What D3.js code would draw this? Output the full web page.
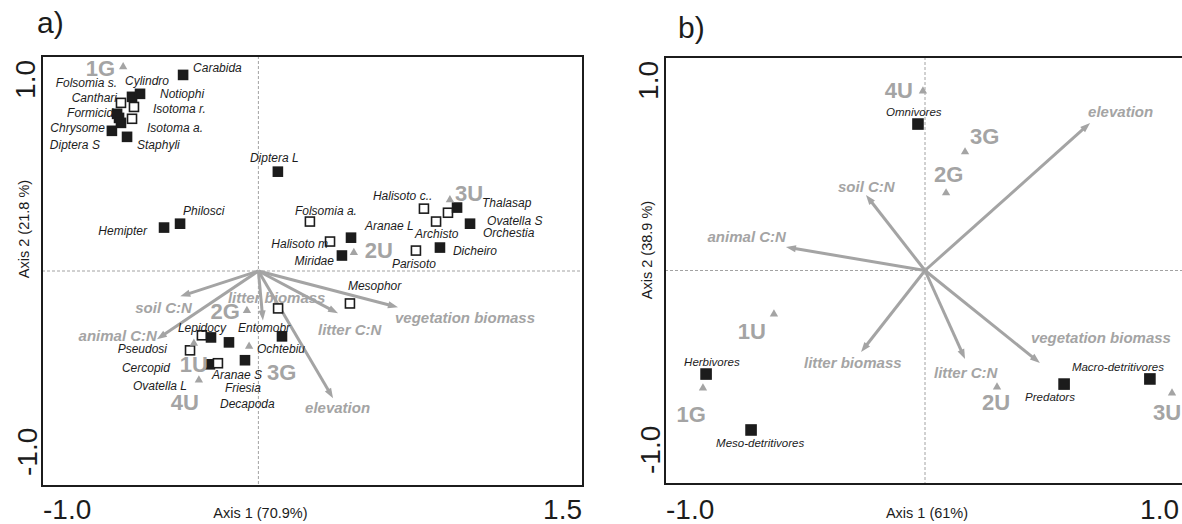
<!DOCTYPE html>
<html>
<head>
<meta charset="utf-8">
<script src="https://cdn.jsdelivr.net/npm/d3@7"></script>
<style>
	body { margin: 0; background: #fff; }
	text { font-family: "Liberation Sans", Arial, Helvetica, sans-serif; }
</style>
</head>
<body>
<svg id="ord-plot" width="1182" height="524" viewBox="0 0 1182 524"></svg>
<script>

// ---- panel a) data (species, sites, environmental vectors) ----
const speciesA = [
	{ name: "Carabida", x: -0.348, y: 0.912, open: false },
	{ name: "Canthari", x: -0.644, y: 0.712, open: false },
	{ name: "Folsomia s.", x: -0.635, y: 0.782, open: true },
	{ name: "Cylindro", x: -0.584, y: 0.810, open: false },
	{ name: "Notiophi", x: -0.547, y: 0.824, open: false },
	{ name: "Isotoma r.", x: -0.575, y: 0.763, open: true },
	{ name: "Formicid", x: -0.653, y: 0.731, open: false },
	{ name: "Isotoma a.", x: -0.584, y: 0.708, open: true },
	{ name: "Chrysome", x: -0.635, y: 0.689, open: false },
	{ name: "Diptera S", x: -0.677, y: 0.652, open: false },
	{ name: "Staphyli", x: -0.607, y: 0.624, open: false },
	{ name: "Hemipter", x: -0.436, y: 0.202, open: false },
	{ name: "Philosci", x: -0.362, y: 0.220, open: false },
	{ name: "Diptera L", x: 0.090, y: 0.462, open: false },
	{ name: "Folsomia a.", x: 0.238, y: 0.230, open: true },
	{ name: "Halisoto m", x: 0.331, y: 0.137, open: true },
	{ name: "Aranae L", x: 0.428, y: 0.155, open: false },
	{ name: "Miridae", x: 0.386, y: 0.072, open: false },
	{ name: "Parisoto", x: 0.728, y: 0.095, open: true },
	{ name: "Halisoto c..", x: 0.765, y: 0.290, open: true },
	{ name: "Archisto", x: 0.821, y: 0.230, open: true },
	{ name: "Thalasap", x: 0.876, y: 0.271, open: true },
	{ name: "Ovatella S", x: 0.918, y: 0.295, open: false },
	{ name: "Orchestia", x: 0.978, y: 0.220, open: false },
	{ name: "Dicheiro", x: 0.839, y: 0.109, open: false },
	{ name: "Mesophor", x: 0.423, y: -0.151, open: true },
	{ name: "Entomobr", x: 0.091, y: -0.174, open: true },
	{ name: "Ochtebiu", x: 0.109, y: -0.304, open: false },
	{ name: "Lepidocy", x: -0.261, y: -0.299, open: true },
	{ name: "Ovatella L", x: -0.219, y: -0.309, open: false },
	{ name: "Decapoda", x: -0.136, y: -0.332, open: false },
	{ name: "Pseudosi", x: -0.316, y: -0.369, open: true },
	{ name: "Cercopid", x: -0.224, y: -0.434, open: false },
	{ name: "Friesia", x: -0.187, y: -0.429, open: true },
	{ name: "Aranae S", x: -0.062, y: -0.415, open: false }
];

const sitesA = [
	{ name: "1G", x: -0.625, y: 0.954 },
	{ name: "3U", x: 0.885, y: 0.336 },
	{ name: "2U", x: 0.441, y: 0.090 },
	{ name: "2G", x: -0.053, y: -0.179 },
	{ name: "3G", x: -0.043, y: -0.346 },
	{ name: "1U", x: -0.298, y: -0.332 },
	{ name: "4U", x: -0.275, y: -0.503 }
];

const envA = [
	{ name: "soil C:N", x: -0.361, y: -0.118 },
	{ name: "animal C:N", x: -0.469, y: -0.318 },
	{ name: "litter biomass", x: 0.021, y: -0.230 },
	{ name: "litter C:N", x: 0.368, y: -0.197 },
	{ name: "vegetation biomass", x: 0.645, y: -0.169 },
	{ name: "elevation", x: 0.345, y: -0.592 }
];

// ---- panel b) data ----
const speciesB = [
	{ name: "Omnivores", x: -0.027, y: 0.686, open: false },
	{ name: "Herbivores", x: -0.842, y: -0.485, open: false },
	{ name: "Meso-detritivores", x: -0.669, y: -0.747, open: false },
	{ name: "Predators", x: 0.535, y: -0.532, open: false },
	{ name: "Macro-detritivores", x: 0.865, y: -0.508, open: false }
];

const sitesB = [
	{ name: "4U", x: -0.008, y: 0.845 },
	{ name: "3G", x: 0.154, y: 0.560 },
	{ name: "2G", x: 0.081, y: 0.368 },
	{ name: "1U", x: -0.581, y: -0.199 },
	{ name: "1G", x: -0.854, y: -0.546 },
	{ name: "2U", x: 0.277, y: -0.541 },
	{ name: "3U", x: 0.950, y: -0.569 }
];

const envB = [
	{ name: "elevation", x: 0.635, y: 0.691 },
	{ name: "soil C:N", x: -0.227, y: 0.354 },
	{ name: "animal C:N", x: -0.535, y: 0.110 },
	{ name: "litter biomass", x: -0.246, y: -0.382 },
	{ name: "litter C:N", x: 0.154, y: -0.415 },
	{ name: "vegetation biomass", x: 0.442, y: -0.433 }
];

// axis ranges and texts
const xDomainA = [-1.0, 1.5];
const xDomainB = [-1.0, 1.0];
const yDomain = [-1.0, 1.0];
const xTickLabelsA = ["-1.0", "1.5"];
const xTickLabelsB = ["-1.0", "1.0"];
const yTickLabels = ["-1.0", "1.0"];

// label nudges in px from the mark: [dx, dy, anchor]
const nudgeA = {
	"Carabida": [10, -3, "start"], "Folsomia s.": [-4, -16, "end"], "Cylindro": [-7, -12, "start"],
	"Notiophi": [20, 4, "start"], "Canthari": [-2, -16, "end"], "Isotoma r.": [19, 6, "start"],
	"Formicid": [-4, 3, "end"], "Isotoma a.": [15, 13, "start"], "Chrysome": [-16, 9, "end"],
	"Diptera S": [-12, 18, "end"], "Staphyli": [10, 12, "start"], "Hemipter": [-17, 7, "end"],
	"Philosci": [3, -9, "start"], "Diptera L": [-28, -10, "start"], "Folsomia a.": [-15, -7, "start"],
	"Halisoto m": [-2, 6, "end"], "Aranae L": [14, -8, "start"], "Miridae": [-8, 9, "end"],
	"Parisoto": [-24, 17, "start"], "Halisoto c..": [-51, -9, "start"], "Archisto": [-21, 16, "start"],
	"Thalasap": [34, -6, "start"], "Ovatella S": [30, 17, "start"], "Orchestia": [13, 13, "start"],
	"Dicheiro": [13, 7, "start"], "Mesophor": [-2, -13, "start"], "Entomobr": [-40, 24, "start"],
	"Ochtebiu": [-25, 17, "start"], "Lepidocy": [-24, -3, "start"], "Ovatella L": [-24, 53, "end"],
	"Decapoda": [-9, 66, "start"], "Pseudosi": [-23, 3, "end"], "Cercopid": [-40, 8, "end"],
	"Friesia": [7, 29, "start"], "Aranae S": [-33, 19, "start"],
	"1G": [-8, 10, "end"], "3U": [5, 2, "start"], "2U": [11, 6, "start"], "2G": [-7, 10, "end"],
	"3G": [18, 35, "start"], "1U": [0, 30, "middle"], "4U": [-14, 31, "middle"],
	"soil C:N": [-45, 17, "start"], "animal C:N": [0, 2, "end"], "litter biomass": [-35, -17, "start"],
	"litter C:N": [-20, 22, "start"], "vegetation biomass": [-3, 16, "start"], "elevation": [-28, 15, "start"]
};

const nudgeB = {
	"Omnivores": [-32, -8, "start"], "Herbivores": [-22, -8, "start"], "Meso-detritivores": [-35, 17, "start"],
	"Predators": [-39, 17, "start"], "Macro-detritivores": [-78, -8, "start"],
	"4U": [-10, 8, "end"], "3G": [5, -7, "start"], "2G": [-12, -10, "start"], "1U": [-8, 26, "end"],
	"1G": [3, 35, "end"], "2U": [-1, 24, "middle"], "3U": [-5, 28, "middle"],
	"elevation": [-2, -6, "start"], "soil C:N": [-28, -3, "start"], "animal C:N": [0, -5, "end"],
	"litter biomass": [-57, 16, "start"], "litter C:N": [-31, 19, "start"], "vegetation biomass": [-9, -20, "start"]
};

const GREY = "#a4a4a4";
const INK = "#1c1c1c";
const SVG_W = 1182;

function drawPanel(svg, cfg) {
	const x = d3.scaleLinear().domain(cfg.xDomain).range([cfg.left, cfg.right]);
	const y = d3.scaleLinear().domain(yDomain).range([cfg.bottom, cfg.top]);
	const g = svg.append("g");
	const nudge = cfg.nudge;

	// dashed zero lines
	g.append("line")
		.attr("x1", x(0)).attr("x2", x(0))
		.attr("y1", cfg.top).attr("y2", cfg.bottom)
		.attr("stroke", "#8a8a8a").attr("stroke-width", 0.8)
		.attr("stroke-dasharray", "3,2");
	g.append("line")
		.attr("x1", cfg.left).attr("x2", cfg.right)
		.attr("y1", y(0)).attr("y2", y(0))
		.attr("stroke", "#8a8a8a").attr("stroke-width", 0.8)
		.attr("stroke-dasharray", "3,2");

	// environmental arrows (line stops short, head drawn as polygon)
	const headLen = 10, headHalf = 3.6;
	cfg.env.forEach(d => {
		const x0 = x(0), y0 = y(0), x1 = x(d.x), y1 = y(d.y);
		const len = Math.hypot(x1 - x0, y1 - y0);
		const ux = (x1 - x0) / len, uy = (y1 - y0) / len;
		const bx = x1 - ux * headLen, by = y1 - uy * headLen;
		g.append("line")
			.attr("x1", x0).attr("y1", y0)
			.attr("x2", bx + ux * 1).attr("y2", by + uy * 1)
			.attr("stroke", GREY).attr("stroke-width", 3);
		g.append("polygon")
			.attr("points", [[x1, y1], [bx - uy * headHalf, by + ux * headHalf], [bx + uy * headHalf, by - ux * headHalf]].join(" "))
			.attr("fill", GREY);
	});

	// species squares
	g.selectAll(".sp")
		.data(cfg.species)
		.enter()
		.append("rect")
		.classed("sp", true)
		.attr("x", d => x(d.x) - cfg.sq / 2)
		.attr("y", d => y(d.y) - cfg.sq / 2)
		.attr("width", cfg.sq).attr("height", cfg.sq)
		.attr("fill", d => d.open ? "#fff" : INK)
		.attr("stroke", INK).attr("stroke-width", 1.6);

	// site triangles
	g.selectAll(".site")
		.data(cfg.sites)
		.enter()
		.append("path")
		.classed("site", true)
		.attr("d", d3.symbol(d3.symbolTriangle).size(30))
		.attr("transform", d => "translate(" + x(d.x) + "," + (y(d.y) + 1) + ")")
		.attr("fill", GREY);

	// labels
	const label = (data, size, weight, style, fill) => {
		g.selectAll(null)
			.data(data)
			.enter()
			.append("text")
			.attr("x", d => x(d.x) + nudge[d.name][0])
			.attr("y", d => y(d.y) + nudge[d.name][1])
			.attr("text-anchor", d => nudge[d.name][2])
			.style("font-size", size + "px")
			.style("font-weight", weight)
			.style("font-style", style)
			.attr("fill", fill)
			.text(d => d.name);
	};
	label(cfg.species, cfg.spFont, "normal", "italic", INK);
	label(cfg.env, 15, "bold", "italic", GREY);
	label(cfg.sites, 22, "bold", "normal", GREY);

	// frame
	g.append("rect")
		.attr("x", cfg.left).attr("y", cfg.top)
		.attr("width", cfg.right - cfg.left).attr("height", cfg.bottom - cfg.top)
		.attr("fill", "none").attr("stroke", INK).attr("stroke-width", 2);

	// tick labels: only the ends of each axis
	g.append("text")
		.attr("x", x(cfg.xDomain[0]) + 1).attr("y", 519)
		.style("font-size", "28px").attr("fill", INK)
		.text(cfg.xTicks[0]);
	g.append("text")
		.attr("x", Math.min(x(cfg.xDomain[1]) - 1, SVG_W - 3)).attr("y", 519)
		.attr("text-anchor", "end")
		.style("font-size", "28px").attr("fill", INK)
		.text(cfg.xTicks[1]);
	g.append("text")
		.attr("transform", "translate(" + (cfg.left - 5) + "," + (y(yDomain[0]) - 10) + ") rotate(-90)")
		.style("font-size", "28px").attr("fill", INK)
		.text(yTickLabels[0]);
	g.append("text")
		.attr("transform", "translate(" + (cfg.left - 7) + "," + (y(yDomain[1]) + 4) + ") rotate(-90)")
		.attr("text-anchor", "end")
		.style("font-size", "28px").attr("fill", INK)
		.text(yTickLabels[1]);

	// axis titles
	g.append("text")
		.attr("x", x(0) + 2).attr("y", 518)
		.attr("text-anchor", "middle")
		.style("font-size", "14.5px").attr("fill", INK)
		.text(cfg.xTitle);
	g.append("text")
		.attr("transform", "translate(" + (cfg.left - 13) + "," + cfg.yTitleAt + ") rotate(-90)")
		.attr("text-anchor", "middle")
		.style("font-size", "14.5px").attr("fill", INK)
		.text(cfg.yTitle);

	// panel letter
	g.append("text")
		.attr("x", cfg.letterAt[0]).attr("y", cfg.letterAt[1])
		.style("font-size", "30px").attr("fill", INK)
		.text(cfg.letter);
}

function whenDocumentLoaded(action) {
	if (document.readyState === "loading") {
		document.addEventListener("DOMContentLoaded", action);
	} else {
		action();
	}
}

whenDocumentLoaded(() => {
	const svg = d3.select("#ord-plot");

	drawPanel(svg, {
		left: 42, right: 583, top: 56, bottom: 486,
		xDomain: xDomainA, xTicks: xTickLabelsA,
		species: speciesA, sites: sitesA, env: envA, nudge: nudgeA,
		sq: 9, spFont: 12,
		xTitle: "Axis 1 (70.9%)", yTitle: "Axis 2 (21.8 %)", yTitleAt: 229,
		letter: "a)", letterAt: [37, 33]
	});

	drawPanel(svg, {
		left: 665, right: 1185, top: 57, bottom: 484,
		xDomain: xDomainB, xTicks: xTickLabelsB,
		species: speciesB, sites: sitesB, env: envB, nudge: nudgeB,
		sq: 10, spFont: 11.5,
		xTitle: "Axis 1 (61%)", yTitle: "Axis 2 (38.9 %)", yTitleAt: 250,
		letter: "b)", letterAt: [678, 38]
	});
});
</script>
</body>
</html>
